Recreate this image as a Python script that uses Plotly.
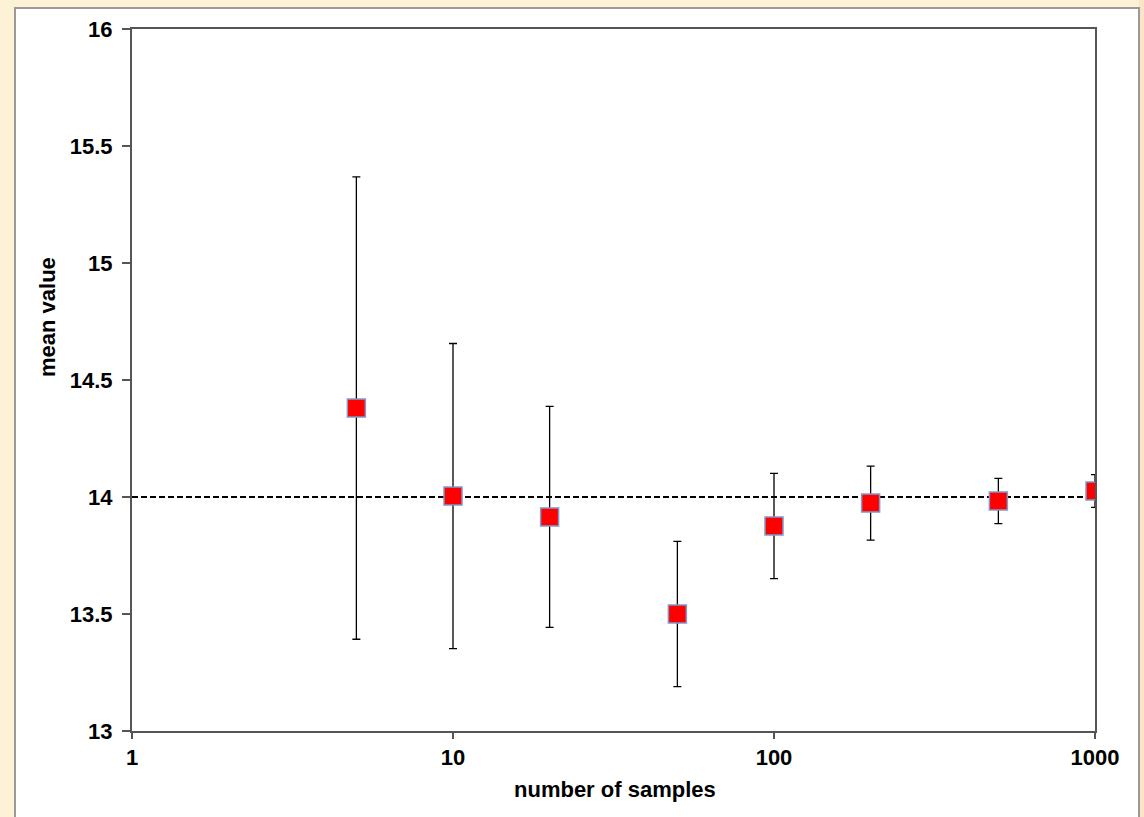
import plotly.graph_objects as go

samples = [5, 10, 20, 50, 100, 200, 500, 1000]
means = [14.38, 14.004, 13.915, 13.50, 13.876, 13.974, 13.983, 14.026]
errors = [0.988, 0.652, 0.472, 0.31, 0.225, 0.158, 0.097, 0.07]
true_value = 14.0
x_ticks = [1, 10, 100, 1000]
y_ticks = [13, 13.5, 14, 14.5, 15, 15.5, 16]

W, H = 1144, 817
L, R, T, B = 132, 49, 29, 86
pw, ph = W - L - R, H - T - B

def px_x(p):
    return (p - L) / pw

def px_y(p):
    return (H - B - p) / ph

FAM = "Liberation Sans, Arial, sans-serif"
tickfont = dict(family=FAM, size=22, color="black", weight="bold")

fig = go.Figure()

fig.add_trace(go.Scatter(
    x=[1, 1000], y=[true_value, true_value], mode="lines",
    line=dict(color="black", width=2, dash="6px,3px"),
    hoverinfo="skip", showlegend=False,
))

fig.add_trace(go.Scatter(
    x=samples, y=means, mode="markers",
    marker=dict(symbol="square", size=18, color="#FF0000",
                line=dict(color="#7E9CCB", width=1.5)),
    error_y=dict(type="data", array=errors, visible=True,
                 color="black", thickness=1.3, width=4),
    showlegend=False,
))

# right peach strip of the outer background
fig.add_shape(type="rect", xref="paper", yref="paper",
              x0=px_x(1139), x1=px_x(1150), y0=px_y(830), y1=px_y(-5),
              fillcolor="#FCE4C6", line=dict(width=0), layer="below")
# white chart area with grey frame
fig.add_shape(type="rect", xref="paper", yref="paper",
              x0=px_x(15), x1=px_x(1139), y0=px_y(830), y1=px_y(8),
              fillcolor="white", line=dict(color="#9A9A9A", width=2),
              layer="below")

fig.add_annotation(text="<b>number of samples</b>", xref="paper", yref="paper",
                   x=px_x(615), y=px_y(789), showarrow=False,
                   xanchor="center", yanchor="middle",
                   font=dict(family=FAM, size=22, color="black"))
fig.add_annotation(text="<b>mean value</b>", xref="paper", yref="paper",
                   x=px_x(47), y=px_y(317), showarrow=False, textangle=-90,
                   xanchor="center", yanchor="middle",
                   font=dict(family=FAM, size=22, color="black"))

fig.update_layout(
    width=W, height=H,
    margin=dict(l=L, r=R, t=T, b=B, pad=0),
    paper_bgcolor="#FDF2D6",
    plot_bgcolor="white",
    xaxis=dict(
        type="log", range=[0, 3],
        tickmode="array", tickvals=x_ticks, ticktext=[str(v) for v in x_ticks],
        ticks="outside", ticklen=6, tickcolor="#555555", tickwidth=1.5,
        ticklabelstandoff=0,
        showline=True, linecolor="#555555", linewidth=2, mirror=True,
        showgrid=False, zeroline=False,
        tickfont=tickfont,
    ),
    yaxis=dict(
        range=[13, 16],
        tickmode="array", tickvals=y_ticks, ticktext=[f"{v:g}" for v in y_ticks],
        ticks="outside", ticklen=8, tickcolor="#555555", tickwidth=1.5,
        ticklabelstandoff=5,
        showline=True, linecolor="#555555", linewidth=2, mirror=True,
        showgrid=False, zeroline=False,
        tickfont=tickfont,
    ),
)

fig.write_html("out.html", config={"displayModeBar": False},
               post_script="document.body.style.margin='0';")
